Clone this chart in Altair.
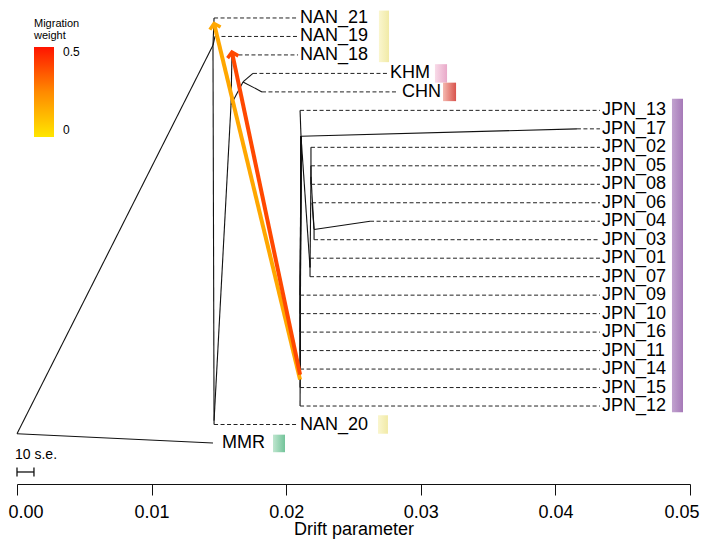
import math
import altair as alt
import pandas as pd

FONT = "Liberation Sans"

# ---------------- data ----------------
leaves = ["NAN_21", "NAN_19", "NAN_18", "KHM", "CHN", "JPN_13", "JPN_17", "JPN_02",
          "JPN_05", "JPN_08", "JPN_06", "JPN_04", "JPN_03", "JPN_01", "JPN_07", "JPN_09",
          "JPN_10", "JPN_16", "JPN_11", "JPN_14", "JPN_15", "JPN_12", "NAN_20", "MMR"]
tip_x = [0.01464, 0.01471, 0.01597, 0.01753, 0.01820, 0.02103, 0.04160, 0.02184,
         0.02184, 0.02184, 0.02192, 0.02623, 0.02207, 0.02177, 0.02177, 0.02103,
         0.02103, 0.02103, 0.02103, 0.02103, 0.02103, 0.02103, 0.01464, 0.01456]
dash_end_x = [0.02088, 0.02088, 0.02088, 0.02749, 0.02823, 0.04331, 0.04331, 0.04331,
              0.04331, 0.04331, 0.04331, 0.04331, 0.04331, 0.04331, 0.04331, 0.04331,
              0.04331, 0.04331, 0.04331, 0.04331, 0.04331, 0.04331, 0.02088, 0.01456]
label_x = [0.02103, 0.02103, 0.02103, 0.02771, 0.02860, 0.04346, 0.04346, 0.04346,
           0.04346, 0.04346, 0.04346, 0.04346, 0.04346, 0.04346, 0.04346, 0.04346,
           0.04346, 0.04346, 0.04346, 0.04346, 0.04346, 0.04346, 0.02103, 0.01523]

node_names = ["R", "A", "X", "B", "KC", "D", "F", "H", "G"]
node_x = [0.0, 0.01456, 0.01464, 0.01590, 0.01679, 0.02110, 0.02177, 0.02184, 0.02207]
node_y = [22.5, 1.48, 21.8, 4.7, 3.46, 6.4, 13.5, 8.6, 11.45]

edge_parent = ["R", "R", "A", "A", "A", "X", "X", "B", "B", "KC", "KC",
               "D", "D", "D", "F", "F", "F", "H", "H", "H", "H", "G", "G", "G",
               "D", "D", "D", "D", "D", "D", "D"]
edge_child = ["MMR", "A", "NAN_21", "NAN_19", "X", "NAN_20", "B", "NAN_18", "KC", "KHM", "CHN",
              "JPN_13", "JPN_17", "F", "JPN_01", "JPN_07", "H", "JPN_02", "JPN_05", "JPN_08", "G",
              "JPN_06", "JPN_04", "JPN_03",
              "JPN_09", "JPN_10", "JPN_16", "JPN_11", "JPN_14", "JPN_15", "JPN_12"]

bar_groups = ["NAN", "NAN_20", "KHM", "CHN", "JPN", "MMR"]
bar_x0 = [0.02689, 0.02682, 0.03105, 0.03165, 0.04866, 0.01902]
bar_x1 = [0.02764, 0.02756, 0.03195, 0.03262, 0.04948, 0.01991]
bar_y0 = [-0.40, 21.5, 2.5, 3.5, 4.37, 22.55]
bar_y1 = [2.39, 22.5, 3.5, 4.5, 21.34, 23.5]
bar_color_left = ["#faf6cf", "#faf6cf", "#f8dbe8", "#f4b9b0", "#c1a3cf", "#bfe6cf"]
bar_color_right = ["#f1eaa6", "#f1eaa6", "#e9a9c9", "#d9534c", "#a679b8", "#73c49a"]

mig_from_x = [0.02103, 0.02103]
mig_from_y = [19.57, 19.30]
mig_to_x = [0.01464, 0.01597]
mig_to_y = [0.30, 1.85]
mig_weight = [0.17, 0.39]

se_bar_len = 0.00126
x_ticks = [0.0, 0.01, 0.02, 0.03, 0.04, 0.05]

# ---------------- layout ----------------
W, H = 673, 476
XDOM = [0.0, 0.05]
YDOM = [-0.54, 25.22]
xs = alt.Scale(domain=XDOM, nice=False, zero=False)
ys = alt.Scale(domain=YDOM, nice=False, zero=False, reverse=True)

pos = {n: (x, y) for n, x, y in zip(node_names, node_x, node_y)}
for i, (n, x) in enumerate(zip(leaves, tip_x)):
    pos[n] = (x, float(i))

edges = pd.DataFrame({
    "x": [pos[p][0] for p in edge_parent],
    "y": [pos[p][1] for p in edge_parent],
    "x2": [pos[c][0] for c in edge_child],
    "y2": [pos[c][1] for c in edge_child],
})

leaf_df = pd.DataFrame({
    "name": leaves,
    "tip": tip_x,
    "dash_end": dash_end_x,
    "lx": label_x,
    "y": list(range(len(leaves))),
})

px_x = W / (XDOM[1] - XDOM[0])
px_y = H / (YDOM[1] - YDOM[0])
angles = []
for fx, fy, tx, ty in zip(mig_from_x, mig_from_y, mig_to_x, mig_to_y):
    dx = (tx - fx) * px_x
    dy = (ty - fy) * px_y
    angles.append(math.degrees(math.atan2(dx, -dy)) % 360)

mig = pd.DataFrame({
    "x": mig_from_x, "y": mig_from_y, "x2": mig_to_x, "y2": mig_to_y,
    "w": mig_weight, "ang": angles,
})

axis_x = alt.Axis(
    values=x_ticks, format=".2f", grid=False, tickSize=11, tickColor="#111", tickWidth=1,
    domainColor="#111", domainWidth=1, labelFont=FONT, labelFontSize=18, labelColor="black",
    labelPadding=8, labelFlush=True, labelFlushOffset=9,
    title="Drift parameter", titleFont=FONT, titleFontSize=18, titleFontWeight="normal",
    titleColor="black", titlePadding=-1,
)


def X(field):
    return alt.X(field, scale=xs, axis=axis_x, title="Drift parameter")


def Y(field):
    return alt.Y(field, scale=ys, axis=None)


color_scale = alt.Scale(domain=[0, 0.5], range=["#ffe600", "#ff8a00", "#ff1400"], interpolate="rgb")
legend = alt.Legend(
    orient="none", legendX=17, legendY=10, direction="vertical",
    title=["Migration", "weight"], titleFont=FONT, titleFontSize=11, titleFontWeight="normal",
    titleColor="black", titleLineHeight=12, titlePadding=6, titleAlign="left",
    gradientLength=90, gradientThickness=20, gradientStrokeWidth=0,
    values=[0, 0.5], format="~g", labelFont=FONT, labelFontSize=12, labelColor="black",
    labelOffset=9, labelBaseline="middle", padding=0,
)

tree = alt.Chart(edges).mark_rule(color="#111", strokeWidth=1.1).encode(
    x=X("x:Q"), y=Y("y:Q"), x2="x2:Q", y2="y2:Q",
)

dashes = alt.Chart(leaf_df).mark_rule(color="#222", strokeWidth=1, strokeDash=[4, 2.5]).encode(
    x=X("tip:Q"), y=Y("y:Q"), x2="dash_end:Q",
)

labels = alt.Chart(leaf_df).mark_text(
    align="left", baseline="middle", font=FONT, fontSize=18, color="black"
).encode(
    x=X("lx:Q"), y=Y("y:Q"), text="name:N",
)

bar_layers = []
for g, x0, x1, y0, y1, c0, c1 in zip(bar_groups, bar_x0, bar_x1, bar_y0, bar_y1,
                                      bar_color_left, bar_color_right):
    d = pd.DataFrame({"x": [x0], "x2": [x1], "y": [y0], "y2": [y1], "g": [g]})
    grad = alt.LinearGradient(
        gradient="linear",
        stops=[alt.GradientStop(color=c0, offset=0), alt.GradientStop(color=c1, offset=1)],
        x1=0, x2=1, y1=0, y2=0,
    )
    bar_layers.append(
        alt.Chart(d).mark_rect(color=grad).encode(
            x=X("x:Q"), x2="x2:Q", y=Y("y:Q"), y2="y2:Q",
        )
    )

mig_lines = alt.Chart(mig).mark_rule(strokeWidth=4, strokeCap="butt").encode(
    x=X("x:Q"), y=Y("y:Q"), x2="x2:Q", y2="y2:Q",
    color=alt.Color("w:Q", scale=color_scale, legend=legend),
)

mig_heads = alt.Chart(mig).mark_point(
    shape="M-1,0.9L0,0L1,0.9", size=121, filled=False, strokeWidth=3.5, opacity=1,
    strokeJoin="miter",
).encode(
    x=X("x2:Q"), y=Y("y2:Q"),
    angle=alt.Angle("ang:Q", scale=None),
    color=alt.Color("w:Q", scale=color_scale, legend=legend),
)

se_df = pd.DataFrame({"x": [0.0], "x2": [se_bar_len], "y": [24.57], "ty": [23.65], "t": ["10 s.e."]})
se_ends = pd.DataFrame({"x": [0.0, se_bar_len], "y": [24.57, 24.57]})
se_rule = alt.Chart(se_df).mark_rule(color="#111", strokeWidth=1.3).encode(
    x=X("x:Q"), x2="x2:Q", y=Y("y:Q"),
)
se_tick = alt.Chart(se_ends).mark_point(
    shape="M0,-1L0,1", size=81, filled=False, strokeWidth=1.3, color="#111", opacity=1
).encode(
    x=X("x:Q"), y=Y("y:Q"),
)
se_text = alt.Chart(se_df).mark_text(
    align="left", baseline="middle", font=FONT, fontSize=14, color="black", dx=-2
).encode(
    x=X("x:Q"), y=Y("ty:Q"), text="t:N",
)

chart = alt.layer(
    tree, dashes, *bar_layers, labels, mig_lines, mig_heads, se_rule, se_tick, se_text
).properties(
    width=W, height=H,
    background="white",
    autosize=alt.AutoSizeParams(type="none"),
    padding={"left": 9, "top": 0, "right": 11, "bottom": 57},
).configure_view(stroke=None)

chart.save("out.html", embed_options={"renderer": "svg", "actions": False})
